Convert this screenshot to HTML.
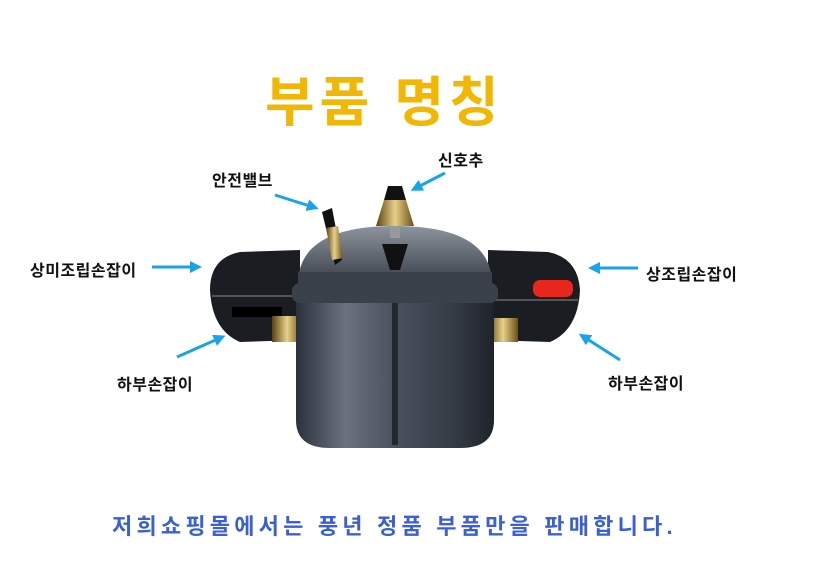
<!DOCTYPE html>
<html><head><meta charset="utf-8"><style>
html,body{margin:0;padding:0;background:#fff;}
body{width:833px;height:585px;overflow:hidden;position:relative;font-family:"Liberation Sans","Noto Sans CJK KR",sans-serif;}
.t{position:absolute;white-space:nowrap;}
.l{font-size:16px;font-weight:bold;color:#111;letter-spacing:0.5px}
</style></head><body>
<svg width="833" height="585" style="position:absolute;left:0;top:0">
<defs>
<linearGradient id="body" x1="0" x2="1" y1="0" y2="0">
<stop offset="0" stop-color="#2c323c"/><stop offset="0.25" stop-color="#6a7280"/><stop offset="0.5" stop-color="#4a515d"/><stop offset="0.8" stop-color="#353b45"/><stop offset="1" stop-color="#1e232a"/></linearGradient>
<linearGradient id="lid" x1="0" x2="0" y1="0" y2="1">
<stop offset="0" stop-color="#8e949e"/><stop offset="1" stop-color="#3a4049"/></linearGradient>
<linearGradient id="gold" x1="0" x2="1"><stop offset="0" stop-color="#5a4310"/><stop offset="0.5" stop-color="#e8d08a"/><stop offset="1" stop-color="#6a5015"/></linearGradient>
<marker id="ah" markerWidth="4" markerHeight="4" refX="2" refY="2" orient="auto"><path d="M0,0 L4,2 L0,4 z" fill="#1aa3ea"/></marker>
</defs>
<path d="M300,250 L240,252 Q210,258 210,290 Q212,330 240,342 L300,340 Z" fill="#1a1d22"/>
<path d="M212,296 L300,296" stroke="#555" stroke-width="2"/>
<rect x="232" y="307" width="50" height="10" fill="#000"/>
<rect x="272" y="316" width="30" height="26" fill="url(#gold)"/>
<path d="M488,250 L548,252 Q578,258 580,290 Q578,330 550,342 L488,340 Z" fill="#1a1d22"/>
<path d="M490,300 L578,300" stroke="#555" stroke-width="2"/>
<rect x="533" y="280" width="40" height="17" rx="7" fill="#e8261e"/>
<rect x="488" y="318" width="30" height="24" fill="url(#gold)"/>
<path d="M296,290 L494,290 L494,420 Q494,448 460,448 L330,448 Q296,448 296,420 Z" fill="url(#body)"/>
<rect x="392" y="300" width="6" height="145" fill="#23272e"/>
<rect x="292" y="283" width="206" height="20" rx="8" fill="#3b414b"/>
<path d="M298,282 Q300,226 395,226 Q490,226 492,282 Z" fill="url(#lid)"/>
<rect x="298" y="272" width="194" height="12" fill="#3a4049"/>
<path d="M322,212 L332,208 L342,260 L335,265 Z" fill="#111"/>
<path d="M326,228 L338,226 L343,258 L332,260 Z" fill="url(#gold)"/>
<path d="M388,186 L402,186 L406,200 L384,200 Z" fill="#111"/>
<path d="M384,200 L406,200 L414,226 L376,226 Z" fill="url(#gold)"/>
<rect x="390" y="226" width="10" height="12" fill="#999"/>
<path d="M382,244 L408,244 L400,270 L390,270 Z" fill="#111"/>
<g stroke="#1aa3ea" stroke-width="3" fill="none" marker-end="url(#ah)">
<line x1="275" y1="195" x2="313" y2="207"/>
<line x1="445" y1="173" x2="416" y2="188"/>
<line x1="152" y1="267" x2="196" y2="267"/>
<line x1="638" y1="268" x2="594" y2="268"/>
<line x1="177" y1="357" x2="220" y2="338"/>
<line x1="620" y1="360" x2="584" y2="337"/>
</g>
</svg>
<div class="t" style="left:265px;top:58px;font-size:54px;font-weight:bold;color:#f2b705;letter-spacing:5px">부품 명칭</div>
<div class="t l" style="left:212px;top:167px">안전밸브</div>
<div class="t l" style="left:438px;top:147px">신호추</div>
<div class="t l" style="left:30px;top:257px">상미조립손잡이</div>
<div class="t l" style="left:646px;top:261px">상조립손잡이</div>
<div class="t l" style="left:117px;top:371px">하부손잡이</div>
<div class="t l" style="left:608px;top:370px">하부손잡이</div>
<div class="t" style="left:112px;top:509px;font-size:22px;font-weight:bold;color:#3a5fd6;letter-spacing:4.2px">저희쇼핑몰에서는 풍년 정품 부품만을 판매합니다.</div>
</body></html>
